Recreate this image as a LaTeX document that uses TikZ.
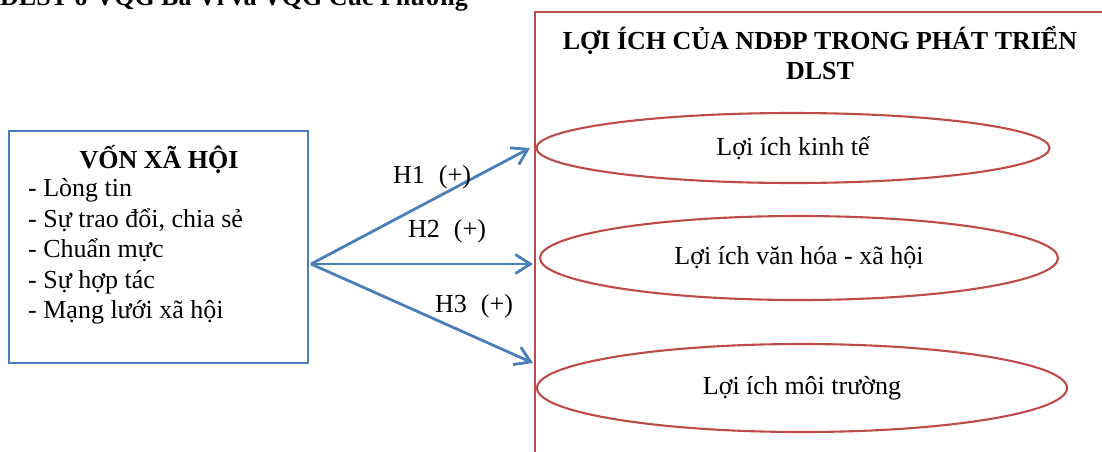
\documentclass[tikz,border=0pt]{standalone}
\usepackage{fontspec}
\setmainfont{Liberation Serif}
\usetikzlibrary{arrows.meta,shapes.geometric}
\definecolor{boxblue}{RGB}{74,126,187}
\definecolor{boxred}{RGB}{190,75,72}
\tikzset{
  txt/.style={font=\fontsize{26}{30}\selectfont, inner sep=0pt},
  btxt/.style={font=\fontsize{26}{30}\selectfont\bfseries, inner sep=0pt},
  srcbox/.style={draw=boxblue, line width=2.8pt, inner sep=0pt},
  benefit/.style={draw=boxred, line width=2.1pt, ellipse, inner sep=0pt,
    font=\fontsize{26}{30}\selectfont},
  link/.style={draw=boxblue, line width=2.8pt,
    -{Straight Barb[length=15pt,width=19pt,line width=2.8pt]}},
}
\begin{document}
\begin{tikzpicture}[x=1pt,y=-1pt]
\useasboundingbox (0,0) rectangle (1102,451);

% running heading of the page, cut by the top edge
\node[btxt, anchor=base west] (head) at (0,5) {DLST ở VQG Ba Vì và VQG Cúc Phương};

% social capital box
\node[srcbox, minimum width=299pt, minimum height=232pt] (vxh) at (158.5,247) {};
\node[btxt, anchor=base] (vxhtitle) at (159,168) {VỐN XÃ HỘI};
\node[txt, anchor=base west] (i1) at (28,196.5) {- Lòng tin};
\node[txt, anchor=base west] (i2) at (28,227) {- Sự trao đổi, chia sẻ};
\node[txt, anchor=base west] (i3) at (28,257.5) {- Chuẩn mực};
\node[txt, anchor=base west] (i4) at (28,288) {- Sự hợp tác};
\node[txt, anchor=base west] (i5) at (28,318) {- Mạng lưới xã hội};

% benefits frame
\draw[boxred, line width=2.6pt] (1130,12) -- (535,12) -- (535,470);
\node[btxt, align=center, anchor=base] (bentitle) at (820,79)
  {LỢI ÍCH CỦA NDĐP TRONG PHÁT TRIỂN\\DLST};

\node[benefit, minimum width=513pt, minimum height=70pt] (e1) at (793,148) {Lợi ích kinh tế};
\node[benefit, minimum width=518pt, minimum height=84pt] (e2) at (799,258) {Lợi ích văn hóa - xã hội};
\node[benefit, minimum width=530pt, minimum height=88pt] (e3) at (802,388) {Lợi ích môi trường};

% hypotheses
\coordinate (src) at (311,264);
\coordinate (t1) at (530,148);
\coordinate (t2) at (533,264);
\coordinate (t3) at (533,363);
\draw[link] (src) -- (t1);
\draw[link] (src) -- (t2);
\draw[link] (src) -- (t3);

\node[txt, anchor=base west] (h1) at (393,183) {H1\hspace{14pt}(+)};
\node[txt, anchor=base west] (h2) at (408,237) {H2\hspace{14pt}(+)};
\node[txt, anchor=base west] (h3) at (435,312) {H3\hspace{14pt}(+)};
\end{tikzpicture}
\end{document}
